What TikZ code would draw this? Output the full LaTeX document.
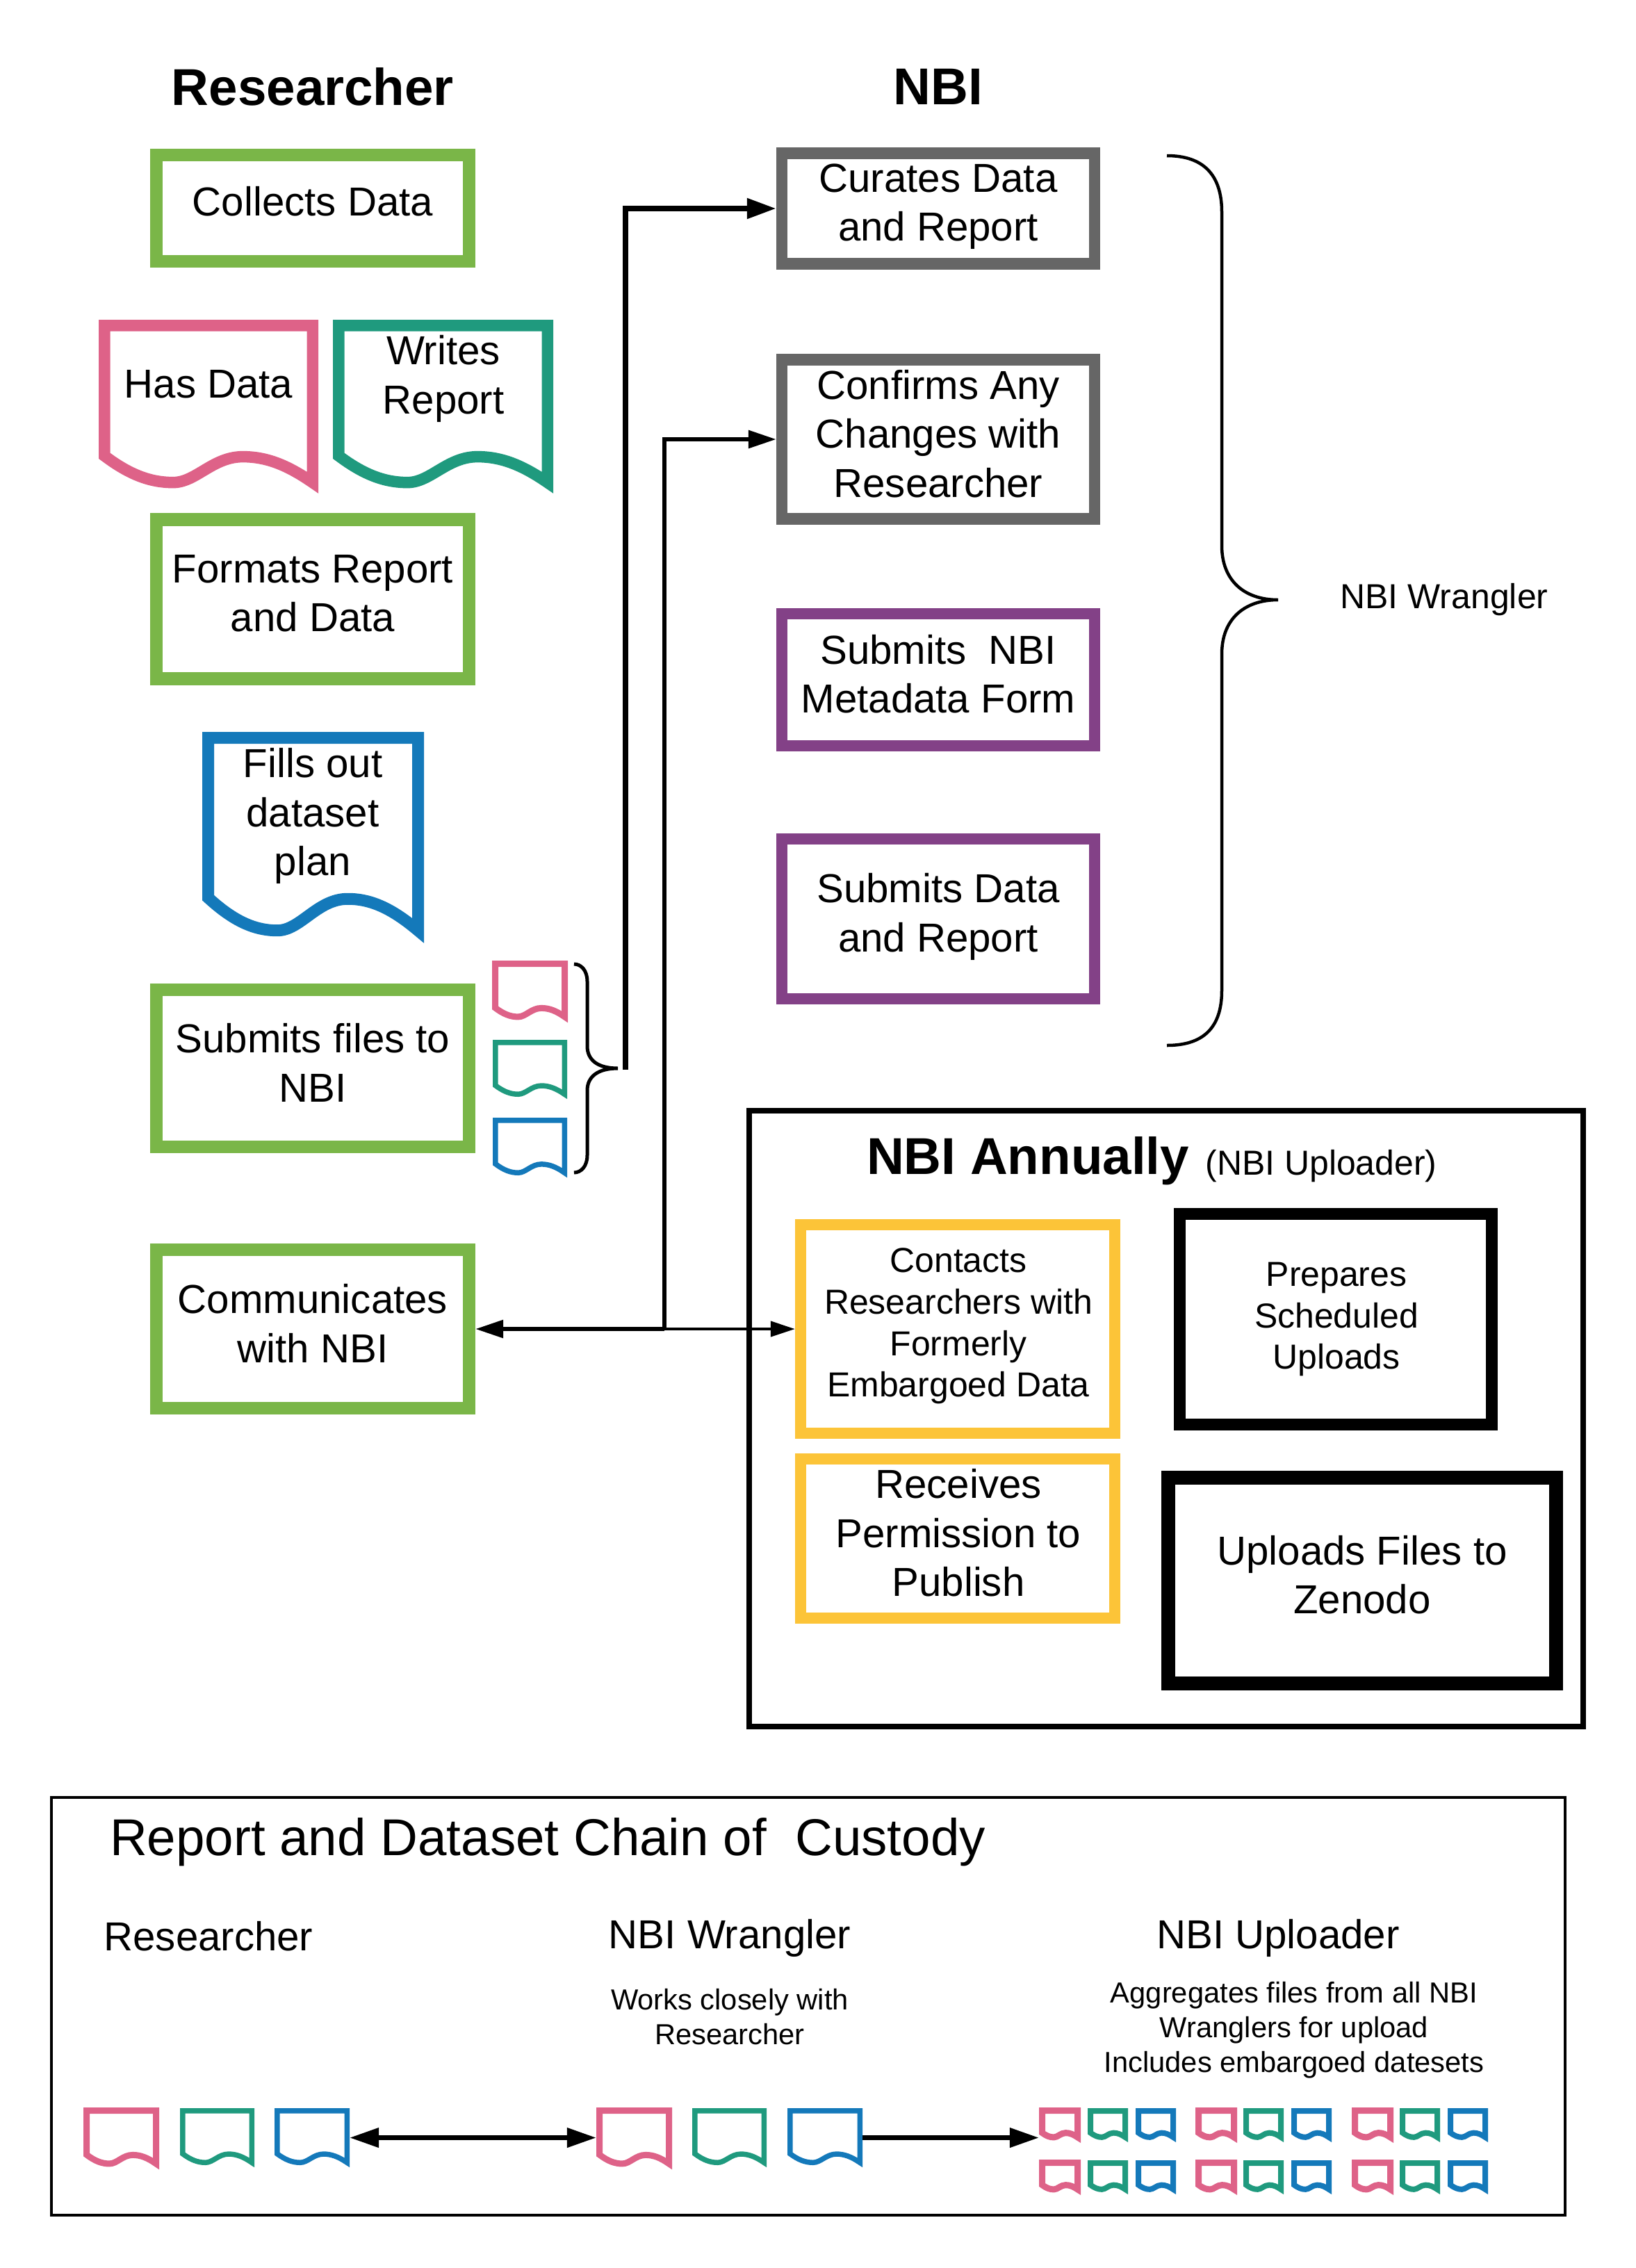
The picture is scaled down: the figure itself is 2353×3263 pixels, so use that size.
\documentclass[tikz,border=0pt]{standalone}
\usepackage{fontspec}
\setmainfont{Liberation Sans}
\usetikzlibrary{positioning,arrows.meta}
\definecolor{boxgreen}{HTML}{7AB648}
\definecolor{boxgray}{HTML}{666666}
\definecolor{boxpurple}{HTML}{834187}
\definecolor{boxyellow}{HTML}{FCC438}
\definecolor{docpink}{HTML}{DE6288}
\definecolor{docteal}{HTML}{1F9A7E}
\definecolor{docblue}{HTML}{1479BA}
\newcommand{\bodysize}{\fontsize{16.55}{20}\selectfont}
\newcommand{\smallsize}{\fontsize{14.2}{17}\selectfont}
\newcommand{\notesize}{\fontsize{11.85}{14.2}\selectfont}
\newcommand{\titlesize}{\fontsize{21.2}{25}\selectfont}
% name, left, top, width, height, colour, line width
\newcommand{\docshape}[7]{%
\node[inner sep=0pt,outer sep=0pt,minimum width=#4*0.01cm,minimum height=#5*0.01cm] (#1) at ({#2+#4/2},{#3+#5/2}) {};
\draw[shift={({#2+#7/2},{#3+#7/2})},x={#4*0.01cm-#7*0.01cm},y={1.4*#7*0.01cm-#5*0.01cm},draw=#6,line width=#7*0.01cm,line join=miter]
(0,0) -- (1,0) -- (1,1) .. controls (0.88,0.89) and (0.78,0.836) .. (0.665,0.836)
.. controls (0.52,0.836) and (0.44,1) .. (0.33,1)
.. controls (0.22,1) and (0.12,0.95) .. (0,0.83) -- cycle;}

\begin{document}
\begin{tikzpicture}[x=0.01cm,y=-0.01cm,font=\bodysize,
box/.style={draw,inner sep=0pt},
greenbox/.style={box,draw=boxgreen,line width=0.185cm,minimum width=4.495cm},
graybox/.style={box,draw=boxgray,line width=0.165cm,minimum width=4.495cm},
purplebox/.style={box,draw=boxpurple,line width=0.16cm,minimum width=4.5cm},
yellowbox/.style={box,draw=boxyellow,line width=0.165cm,minimum width=4.515cm},
blackbox/.style={box,draw=black},
frame/.style={draw=black},
heading/.style={font=\titlesize\bfseries,inner sep=0pt},
label/.style={align=center,inner sep=0pt},
bigarrow/.style={line width=0.08cm,-{Triangle[length=0.42cm,width=0.28cm]}},
midarrow/.style={line width=0.06cm,-{Triangle[length=0.4cm,width=0.25cm]}},
thinarrow/.style={line width=0.04cm,-{Triangle[length=0.35cm,width=0.22cm]}},
chainarrow/.style={line width=0.07cm,-{Triangle[length=0.42cm,width=0.27cm]}}]
\useasboundingbox (0,0) rectangle (2353,3263);

% researcher column
\node[heading] (researcher) at (450,125) {Researcher};
\node[greenbox,minimum height=1.525cm] (collects) at (450,299.5) {};
\node[label] (collectstext) at (450,289.5) {Collects Data};
\docshape{hasdoc}{142}{460}{316}{249}{docpink}{16.5}
\node[label] (hasdata) at (300,553) {Has Data};
\docshape{writesdoc}{479}{460}{317}{249}{docteal}{16.5}
\node[label] (writes) at (638,545) {Writes\\Report};
\node[greenbox,minimum height=2.285cm] (formats) at (450,862) {};
\node[label] (formatstext) at (450,854) {Formats Report\\and Data};
\docshape{plandoc}{291}{1053}{319}{301}{docblue}{17}
\node[label] (fills) at (450,1174) {Fills out\\dataset\\plan};
\node[greenbox,minimum height=2.255cm] (submits) at (450,1537) {};
\node[label] (submitstext) at (450,1529) {Submits files to\\NBI};
\docshape{smallpink}{708}{1382}{109}{89}{docpink}{9}
\docshape{smallteal}{709}{1496}{107}{85}{docteal}{7.5}
\docshape{smallblue}{709}{1608}{107}{86}{docblue}{7.5}
\node[greenbox,minimum height=2.275cm] (communicates) at (450,1912) {};
\node[label] (communicatestext) at (450,1904) {Communicates\\with NBI};

% small brace
\coordinate (bracetip) at (900,1539);
\draw[line width=0.05cm] (826,1387) .. controls (836,1387) and (845,1396) .. (845,1412) -- (845,1505)
.. controls (845,1525) and (860,1537) .. (889,1537) .. controls (860,1537) and (845,1549) .. (845,1569)
-- (845,1662) .. controls (845,1678) and (836,1687) .. (826,1687);

% NBI column
\node[heading] (nbi) at (1350,125) {NBI};
\node[graybox,minimum height=1.585cm] (curates) at (1350,300) {};
\node[label] (curatestext) at (1350,297) {Curates Data\\and Report};
\node[graybox,minimum height=2.285cm] (confirms) at (1350,632) {};
\node[label] (confirmstext) at (1350,624) {Confirms Any\\Changes with\\Researcher};
\node[purplebox,minimum height=1.89cm] (metadata) at (1350,978) {};
\node[label] (metadatatext) at (1350,970) {Submits~~NBI\\Metadata Form};
\node[purplebox,minimum height=2.29cm] (datareport) at (1350,1322) {};
\node[label] (datareporttext) at (1350,1319) {Submits Data\\and Report};

% big brace
\draw[line width=0.045cm] (1679,224) .. controls (1730,224) and (1758,250) .. (1758,305) -- (1758,785)
.. controls (1758,835) and (1790,863) .. (1839,863) .. controls (1790,863) and (1758,891) .. (1758,941)
-- (1758,1425) .. controls (1758,1480) and (1730,1504) .. (1679,1504);
\node[label,font=\smallsize] (wrangler) at (2078,863) {NBI Wrangler};

% annual box
\node[frame,line width=0.08cm,minimum width=11.99cm,minimum height=8.85cm,inner sep=0pt] (annual) at (1678,2041) {};
\node[heading] (annually) at (1479,1670) {NBI Annually};
\node[label,font=\smallsize] (uploader) at (1901,1678) {(NBI Uploader)};
\node[yellowbox,minimum height=2.995cm] (contacts) at (1378,1912) {};
\node[label,font=\smallsize] (contactstext) at (1379,1908) {Contacts\\Researchers with\\Formerly\\Embargoed Data};
\node[yellowbox,minimum height=2.285cm] (receives) at (1378,2213.5) {};
\node[label] (receivestext) at (1379,2205.5) {Receives\\Permission to\\Publish};
\node[blackbox,line width=0.17cm,minimum width=4.49cm,minimum height=3.02cm] (prepares) at (1922,1898) {};
\node[label,font=\smallsize] (preparestext) at (1923,1898) {Prepares\\Scheduled\\Uploads};
\node[blackbox,line width=0.2cm,minimum width=5.58cm,minimum height=2.96cm] (uploads) at (1960,2274) {};
\node[label] (uploadstext) at (1960,2266) {Uploads Files to\\Zenodo};

% connectors
\coordinate (junction) at (956,1912);
\draw[bigarrow] (bracetip) |- (curates.west);
\draw[midarrow] (junction) -- (communicates.east);
\draw[midarrow] (junction) |- (confirms.west);
\draw[thinarrow] (junction) -- (contacts.west);

% chain of custody
\node[frame,line width=0.04cm,minimum width=21.76cm,minimum height=6.01cm,inner sep=0pt] (chain) at (1163,2886.5) {};
\node[label,font=\titlesize] (chaintitle) at (788,2650) {Report and Dataset Chain of~~Custody};
\node[label] (chainres) at (300,2786) {Researcher};
\node[label] (chainwrangler) at (1050,2788) {NBI Wrangler};
\node[label,font=\notesize] (chainworks) at (1050,2902) {Works closely with\\Researcher};
\node[label] (chainuploader) at (1839,2788) {NBI Uploader};
\node[label,font=\notesize] (chainagg) at (1862,2921) {Aggregates files from all NBI\\Wranglers for upload\\Includes embargoed datesets};

\docshape{respink}{120}{3032}{109}{89}{docpink}{9}
\docshape{resteal}{259}{3033}{107}{85}{docteal}{7.5}
\docshape{resblue}{395}{3033}{108}{85}{docblue}{7.5}
\docshape{wrapink}{858}{3032}{109}{89}{docpink}{9}
\docshape{wrateal}{996}{3033}{107}{85}{docteal}{7.5}
\docshape{wrablue}{1133}{3033}{108}{85}{docblue}{7.5}
\draw[chainarrow,{Triangle[length=0.42cm,width=0.27cm]}-{Triangle[length=0.42cm,width=0.27cm]}] (resblue.east) -- (resblue.east -| wrapink.west);
% upper row
\docshape{upinkone}{1495}{3032}{60}{51}{docpink}{9}
\docshape{utealone}{1565}{3033}{58}{49}{docteal}{8}
\docshape{ublueone}{1634}{3033}{58}{49}{docblue}{8}
\docshape{upinktwo}{1720}{3032}{60}{51}{docpink}{9}
\docshape{utealtwo}{1789}{3033}{58}{49}{docteal}{8}
\docshape{ubluetwo}{1858}{3033}{58}{49}{docblue}{8}
\docshape{upinkthree}{1945}{3032}{60}{51}{docpink}{9}
\docshape{utealthree}{2014}{3033}{58}{49}{docteal}{8}
\docshape{ubluethree}{2083}{3033}{58}{49}{docblue}{8}
% lower row
\docshape{lpinkone}{1495}{3107}{60}{51}{docpink}{9}
\docshape{ltealone}{1565}{3108}{58}{49}{docteal}{8}
\docshape{lblueone}{1634}{3108}{58}{49}{docblue}{8}
\docshape{lpinktwo}{1720}{3107}{60}{51}{docpink}{9}
\docshape{ltealtwo}{1789}{3108}{58}{49}{docteal}{8}
\docshape{lbluetwo}{1858}{3108}{58}{49}{docblue}{8}
\docshape{lpinkthree}{1945}{3107}{60}{51}{docpink}{9}
\docshape{ltealthree}{2014}{3108}{58}{49}{docteal}{8}
\docshape{lbluethree}{2083}{3108}{58}{49}{docblue}{8}
\draw[chainarrow] (wrablue.east) -- (wrablue.east -| upinkone.west);
\end{tikzpicture}
\end{document}
